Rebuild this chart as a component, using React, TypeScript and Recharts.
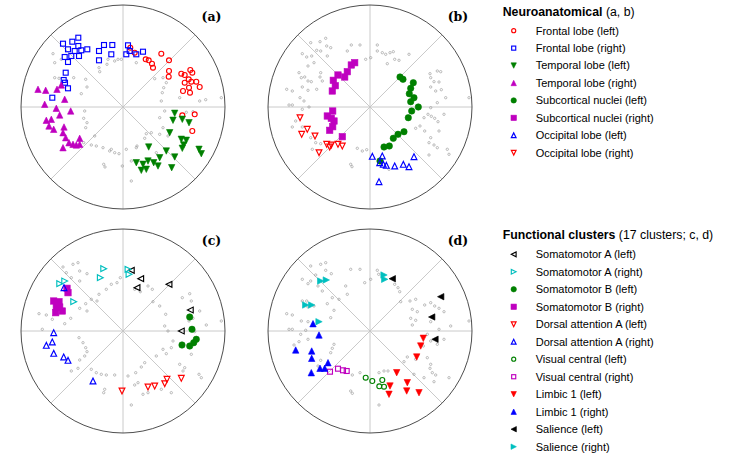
import React from 'react';
import { ScatterChart, Scatter, XAxis, YAxis, ReferenceLine, ReferenceDot } from 'recharts';

type P = [number, number];

const RED = '#ff0000';
const BLUE = '#0000ff';
const GREEN = '#008000';
const MAGENTA = '#bf00bf';
const CYAN = '#00bfbf';
const BLACK = '#000000';

// ---------- Panel (a): neuroanatomical ----------
const aFrontalRight: P[] = [[-60,63.3],[-50.7,65.3],[-44.7,69.3],[-44.7,61],[-55,57.7],[-48.3,56],[-41.7,56.7],[-35.7,57.7],[-58.3,50],[-51.7,51],[-44,51],[-55,45],[-24,56],[-19,62],[-10.7,62],[-11.7,52.7],[-24,46.7],[5,61.7],[6.7,56],[3.3,52.7],[13.3,52.7],[20,55.3],[-57.3,34.3],[-59.3,27],[-58,24.3],[-55,18.7],[-70.7,9.3]];
const aFrontalLeft: P[] = [[7.3,59.3],[11.7,54.3],[22.7,47.7],[25.7,46.7],[29,43.3],[30,39.3],[38.3,53.3],[46,46.7],[46,36],[45.7,30.3],[58.3,33.3],[61.7,32],[67.3,37],[69.3,34.3],[65.7,27.7],[61.7,24.3],[68.3,25.3],[73.3,25.3],[76.7,20],[66,19.3],[60,16],[67,14.3],[71.7,-7.3],[59.3,-8.3],[69.3,-24]];
const aTemporalLeft: P[] = [[51.7,-6.3],[59.3,-12.3],[66,-15.7],[50,-13.3],[46.7,-25.7],[58.3,-32.3],[63.3,-33.3],[60.7,-38],[59.3,-41.3],[76,-42.3],[78.3,-46.7],[43.3,-44],[51.7,-50],[36.7,-50.7],[30.7,-55.7],[25,-54],[13.3,-55.7],[20,-57.3],[23.3,-62.3],[18.3,-63.3],[35,-59],[48.7,-60.7],[25.7,-40]];
const aTemporalRight: P[] = [[-85,17.7],[-77.3,16.7],[-66,17.7],[-61.7,22],[-58.3,7.7],[-78.3,2.7],[-66.7,-1.3],[-52.3,-4],[-63.3,-8],[-76.7,-13.3],[-71.7,-12.3],[-74,-19],[-69.3,-22.3],[-59,-20],[-60,-25.7],[-57.3,-30.7],[-54,-35.7],[-50,-37.3],[-43.3,-31.3],[-43.3,-37.3],[-46.7,-38],[-60,-40.7]];
const aGray: P[] = [[-70,53.3],[-61.7,47.7],[-68.3,29.3],[-64,28.7],[-49.3,29.3],[-37.3,27.7],[-36,20],[-41.7,13.3],[-24,39.3],[-23.3,35.3],[-16,42.7],[-15,47.7],[-8.3,46],[-5,47.7],[-1.7,47.7],[13.3,44.3],[31.7,28.3],[40,29.3],[40.7,19.3],[39.3,14.3],[56.7,9.3],[76.7,6],[82.7,7.3],[98.3,9.3],[41.7,-4],[36.7,-10.7],[40,-20.7],[28.3,-25.7],[21.7,-31.3],[14,-39],[3.3,-42.3],[-0.7,-59],[8.3,-74],[-4,-46.7],[-11.7,-42.3],[-20,-40.7],[-26.7,-39],[-31.7,-38],[-39.3,-35.7],[-36,-15.7],[-37.3,-20.7],[-39.3,-11.3],[-28.3,-29],[-19.3,-57.3],[-18,-60],[70,-4.7],[63.3,-5.3],[45,-29],[33.3,-45.7],[8.3,-54],[13.3,-40.7],[23.3,-26.7],[36.7,-27.3],[-68.3,44.3],[-38.3,-4],[43.3,24.3],[38.3,6],[-13.3,-44],[-8.3,-45.7]];

// ---------- Panel (b): neuroanatomical ----------
const bSubcorticalRight: P[] = [[-15.3,44.3],[-18.7,42],[-22.7,35.3],[-25.3,30],[-32,32],[-36.7,26.7],[-34.7,21.3],[-37.7,16],[-37.3,-4],[-42.7,-9],[-38.7,-11.3],[-36,-14],[-37.3,-19.7],[-40.3,-23.3],[-27.7,-29.7]];
const bSubcorticalLeft: P[] = [[30,30],[33,27.7],[43.3,24.3],[40.7,18.7],[39.3,13.3],[44,9.3],[40.7,5.3],[48.3,0],[41.7,-4],[38.3,-10.7],[34,-24.7],[28,-27.3],[23.3,-31.3],[19.3,-39],[14,-40],[10,-54]];
const bOccipitalLeft: P[] = [[2.3,-49.3],[12.3,-49],[9.7,-55.7],[13.3,-57.3],[16.3,-58.3],[24.7,-59],[33.3,-57.3],[39,-59.7],[44,-49.7],[9,-74.7]];
const bOccipitalRight: P[] = [[-70,-10.7],[-62.7,-22.3],[-68.3,-27.3],[-55,-29],[-43.3,-37.3],[-40.3,-40],[-38.7,-38],[-32,-37.3],[-27.7,-39],[-51,-45.7]];
const bGray: P[] = [[-59.3,64.3],[-50,65.3],[-44.3,68.7],[-43.3,61],[-39.3,59.3],[-49.3,56],[-53.3,56.7],[-67.7,53.3],[-63.3,50],[-58.3,51],[-56,44.3],[-62,41],[-68.7,29.3],[-65.3,30],[-62,26],[-58.7,25.3],[-50,30],[-47.7,26],[-53.3,17.7],[-62,16.7],[-67.7,20],[-83.3,17.7],[-77.7,16],[-70,9.3],[-66,6],[-81,2],[-77.7,2],[-61,0],[-67.7,-2.3],[-74.3,-14],[-77.7,-20],[-67.7,-20],[-59.3,-30.7],[-54.3,-35.7],[-49.3,-36.7],[-57.7,-42.3],[-49.3,34.3],[-22.7,56],[-18.7,62],[-10,62],[-4.3,47.7],[0.7,49.3],[7.3,62],[7.3,56],[12.3,54.3],[15.7,52.7],[20,54.3],[23.3,55.3],[17.3,43.3],[24.7,47.7],[29,46.7],[39,52.7],[60,33.3],[67.3,36],[70.7,35.3],[60.7,29.3],[64,25.3],[69,25],[60.7,20],[65.7,16],[71.3,17.3],[75.7,9.3],[67.3,4.3],[60.7,-0.7],[99,9.3],[54,-10.7],[58,-7.3],[61.3,-9.3],[64.7,-11.3],[68,-14.7],[74,-7.3],[69,-24],[60.7,-30.7],[59,-35.7],[64,-38],[67.3,-40.7],[77.3,-42.3],[79,-47.3],[59,-48],[54.7,-24],[50,-19],[45.7,-21.3],[-12.7,-41.3],[-7.7,-44],[-3.3,-42.7],[-19.3,-57.3],[-18,-59.7],[19,-62.3],[-71,34.3],[-42.7,51]];

// ---------- Panel (c): functional clusters ----------
const cSomA_L: P[] = [[8.3,60.7],[17.7,52.3],[14,43.3],[46,46.7],[67.3,21],[58.3,0]];
const cSomA_R: P[] = [[-19.3,62.3],[-22.7,53.3],[5,61.7],[6,56.7],[-63.3,47.3],[-58.3,50],[-49.3,29.3]];
const cSomB_L: P[] = [[66.7,14],[69,1.7],[73.3,-8.3],[70.7,-11.7],[66.7,-15],[59,-14]];
const cSomB_R: P[] = [[-56,42.7],[-55,38.3],[-69.3,30],[-64,29.3],[-66.7,24],[-60.7,20],[-67.3,18.3],[-63.3,24]];
const cDorsA_L: P[] = [[-1,-60],[25,-56],[31.7,-55],[41.7,-52.7],[44,-48.3],[58.3,-47.3]];
const cDorsA_R: P[] = [[-59,43.3],[-69.3,-1.7],[-70.7,-11],[-76.7,-14.3],[-69.3,-22.3],[-59.3,-26],[-55,-29.3],[-30,-50]];
const cGray: P[] = [[-60,64],[-50,66.7],[-45,68.3],[-43.3,60],[-36,57.3],[-56.7,58.3],[-51.7,53.3],[-43.3,50],[-43.3,22.7],[-36,20],[-37.3,27.3],[-31.7,31.7],[-26,30],[-24,36.7],[-16.7,41.7],[-11.7,46.7],[-6,48.3],[-2.7,53.3],[11.7,41.7],[17.3,39.3],[25,45],[29.3,41.7],[30,29.3],[-84,17.3],[-76.7,16],[-70.7,11.7],[-80.7,1.7],[-58.3,7.3],[-52.3,12.7],[-44,-6.7],[-40,-11.7],[-37.3,-16.7],[-36,-20.7],[-38.3,-25],[-43.3,-29],[-45,-37.3],[-51.7,-40],[-31.7,-38.3],[-26.7,-41.7],[-21.7,-43.3],[-16.7,-44],[-8.3,-44],[5,-45],[12.7,-41.7],[15,-51.7],[11.7,-54],[20,-63.3],[25,-61.7],[38.3,-58.3],[48.3,-61.7],[56.7,-33.3],[60,-40],[61.7,-36.7],[8.3,-74],[-18.3,-58.3],[-19.3,-61.7],[18.3,-36],[21.7,-31.7],[33.3,-25],[40,-18.3],[43.3,-22.7],[48.3,-16.7],[50,-10],[45,0],[41.7,5],[42.7,16.7],[36.7,25],[59.3,33.3],[66.7,37.3],[68.3,30],[76.7,20],[70,12.7],[66,10],[71.7,-0.7],[83.3,6],[98.3,10],[68.3,-23.3],[76,-43.3],[78.3,-46.7]];

// ---------- Panel (d): functional clusters ----------
const dSal_L: P[] = [[22.3,52.3],[70.7,34.3],[61.7,14],[65,-8.3]];
const dSal_R: P[] = [[14,56],[14.7,51.7],[-49.3,50],[-43.7,51],[-64.3,26],[-58.3,26],[-51,9.3]];
const dLimb_R: P[] = [[-57,7.3],[-51,-4],[-74.3,-19],[-58.3,-20],[-58.3,-27.3],[-42,-31.7],[-50,-37.3],[-45.3,-37.3],[-58.7,-41.7]];
const dVis_R: P[] = [[-40,-40.7],[-32,-37.7],[-27,-39.3],[-23.3,-40]];
const dVis_L: P[] = [[-4.3,-46.7],[2.3,-50],[12.3,-49],[9.3,-55.3],[14,-55.7]];
const dLimb_L: P[] = [[53.3,-7.3],[50.7,-15],[46.7,-26],[26.7,-41.7],[37.3,-51.7],[36.7,-60],[49,-61.7],[20,-55],[19,-63.3]];
const dGray: P[] = [[-59.3,65],[-49.3,66.7],[-44.3,68.3],[-44.3,60.7],[-38.7,57.3],[-54.3,56],[-59.3,50],[-62,47.3],[-67.7,51.7],[-52,45],[-47.7,40],[-67.7,30],[-63.3,30],[-62,24],[-56,25],[-42.7,27.3],[-37.7,33.3],[-31,31.7],[-36,20.7],[-39.3,13.3],[-83.3,17.3],[-77.7,16],[-68.7,10],[-62,9.3],[-81,1.7],[-77.7,1.7],[-64.3,0.7],[-69.3,-3.3],[-71,-10.7],[-76,-14],[-62,-8.3],[-36,-13.3],[-37.7,-17.3],[-39.3,-21.7],[-49.3,-29.3],[-52,-35],[-24.3,45],[-22.7,36.7],[-19.3,61.7],[-10,61.7],[-5.3,48.3],[0.7,51.7],[7.3,60.7],[8.7,56.7],[24.7,46.7],[28,43.3],[29.7,39.3],[30.7,29.3],[40,30],[45.7,31.7],[42.3,21.7],[47.3,19.3],[40.7,12.7],[42.3,6],[45.7,10.7],[54.7,26],[60.7,28.3],[64.7,25],[69,22.7],[74,19.3],[60.7,9.3],[69,1.7],[80.7,5],[99,10],[57.3,-3.3],[60.7,-10],[67.3,-13.3],[74,-8.3],[53.3,-15],[57.3,-26.7],[60.7,-33.3],[60,-37.3],[62.3,-41.7],[65.7,-44],[79,-46.7],[64,-50.7],[54,-46.7],[44,-43.3],[45.7,-28.3],[37.3,-26],[34,-30.7],[14,-40],[18,-40],[9,-41.7],[-10,-41.7],[-17.7,-44],[9,-74],[-19.3,-60],[-17.7,-62.3]];

// ---------- Legend labels ----------
const legendTitle1 = 'Neuroanatomical';
const legendSub1 = ' (a, b)';
const legendTitle2 = 'Functional clusters';
const legendSub2 = ' (17 clusters; c, d)';

type Kind = 'o' | 's' | '^' | 'v' | '<' | '>';
type Series = { label: string; kind: Kind; color: string; filled: boolean; data?: P[] };

const neuroSeriesA: Series[] = [
  { label: 'Frontal lobe (left)', kind: 'o', color: RED, filled: false, data: aFrontalLeft },
  { label: 'Frontal lobe (right)', kind: 's', color: BLUE, filled: false, data: aFrontalRight },
  { label: 'Temporal lobe (left)', kind: 'v', color: GREEN, filled: true, data: aTemporalLeft },
  { label: 'Temporal lobe (right)', kind: '^', color: MAGENTA, filled: true, data: aTemporalRight },
];
const neuroSeriesB: Series[] = [
  { label: 'Subcortical nuclei (left)', kind: 'o', color: GREEN, filled: true, data: bSubcorticalLeft },
  { label: 'Subcortical nuclei (right)', kind: 's', color: MAGENTA, filled: true, data: bSubcorticalRight },
  { label: 'Occipital lobe (left)', kind: '^', color: BLUE, filled: false, data: bOccipitalLeft },
  { label: 'Occipital lobe (right)', kind: 'v', color: RED, filled: false, data: bOccipitalRight },
];
const funcSeriesC: Series[] = [
  { label: 'Somatomotor A (left)', kind: '<', color: BLACK, filled: false, data: cSomA_L },
  { label: 'Somatomotor A (right)', kind: '>', color: CYAN, filled: false, data: cSomA_R },
  { label: 'Somatomotor B (left)', kind: 'o', color: GREEN, filled: true, data: cSomB_L },
  { label: 'Somatomotor B (right)', kind: 's', color: MAGENTA, filled: true, data: cSomB_R },
  { label: 'Dorsal attention A (left)', kind: 'v', color: RED, filled: false, data: cDorsA_L },
  { label: 'Dorsal attention A (right)', kind: '^', color: BLUE, filled: false, data: cDorsA_R },
];
const funcSeriesD: Series[] = [
  { label: 'Visual central (left)', kind: 'o', color: GREEN, filled: false, data: dVis_L },
  { label: 'Visual central (right)', kind: 's', color: MAGENTA, filled: false, data: dVis_R },
  { label: 'Limbic 1 (left)', kind: 'v', color: RED, filled: true, data: dLimb_L },
  { label: 'Limbic 1 (right)', kind: '^', color: BLUE, filled: true, data: dLimb_R },
  { label: 'Salience (left)', kind: '<', color: BLACK, filled: true, data: dSal_L },
  { label: 'Salience (right)', kind: '>', color: CYAN, filled: true, data: dSal_R },
];

const toPts = (arr: P[]) => arr.map(([x, y]) => ({ x, y }));

function Marker({ cx, cy, kind, color, filled, s }: { cx: number; cy: number; kind: Kind; color: string; filled: boolean; s: number }) {
  if (cx == null || cy == null || isNaN(cx) || isNaN(cy)) return null;
  const fill = filled ? color : 'none';
  const sw = filled ? 0.6 : 1.15;
  const common = { fill, stroke: color, strokeWidth: sw, strokeLinejoin: 'miter' as const };
  switch (kind) {
    case 'o':
      return <circle cx={cx} cy={cy} r={filled ? s * 1.0 : s * 0.85} {...common} />;
    case 's': {
      const h = filled ? s * 1.0 : s * 0.85;
      return <rect x={cx - h} y={cy - h} width={2 * h} height={2 * h} {...common} />;
    }
    case '^':
      return <polygon points={`${cx},${cy - s} ${cx - s},${cy + s} ${cx + s},${cy + s}`} {...common} />;
    case 'v':
      return <polygon points={`${cx},${cy + s} ${cx - s},${cy - s} ${cx + s},${cy - s}`} {...common} />;
    case '<':
      return <polygon points={`${cx - s},${cy} ${cx + s},${cy - s} ${cx + s},${cy + s}`} {...common} />;
    case '>':
      return <polygon points={`${cx + s},${cy} ${cx - s},${cy - s} ${cx - s},${cy + s}`} {...common} />;
  }
  return null;
}

const R = 102;
const D = R * Math.SQRT1_2;

function Panel({ series, gray, left, top }: { series: Series[]; gray: P[]; left: number; top: number }) {
  return (
    <div style={{ position: 'absolute', left, top, width: 220, height: 220 }}>
      <ScatterChart width={220} height={220} margin={{ top: 8, right: 8, bottom: 8, left: 8 }}>
        <XAxis type="number" dataKey="x" domain={[-R, R]} hide allowDataOverflow />
        <YAxis type="number" dataKey="y" domain={[-R, R]} hide allowDataOverflow />
        <ReferenceLine segment={[{ x: -R, y: 0 }, { x: R, y: 0 }]} stroke="#c4c4c4" strokeWidth={0.9} />
        <ReferenceLine segment={[{ x: 0, y: -R }, { x: 0, y: R }]} stroke="#c4c4c4" strokeWidth={0.9} />
        <ReferenceLine segment={[{ x: -D, y: -D }, { x: D, y: D }]} stroke="#c4c4c4" strokeWidth={0.9} />
        <ReferenceLine segment={[{ x: -D, y: D }, { x: D, y: -D }]} stroke="#c4c4c4" strokeWidth={0.9} />
        <ReferenceDot x={0} y={0} r={R} fill="none" stroke="#3a3a3a" strokeWidth={0.9} />
        <Scatter
          data={toPts(gray)}
          isAnimationActive={false}
          shape={(p: any) => <circle cx={p.cx} cy={p.cy} r={1.2} fill="none" stroke="#8a8a8a" strokeWidth={0.55} />}
        />
        {series.map((s) => (
          <Scatter
            key={s.label}
            data={toPts(s.data || [])}
            isAnimationActive={false}
            shape={(p: any) => <Marker cx={p.cx} cy={p.cy} kind={s.kind} color={s.color} filled={s.filled} s={s.filled ? 3.2 : 2.9} />}
          />
        ))}
      </ScatterChart>
    </div>
  );
}

const FONT = '"Liberation Sans", Arial, sans-serif';

function LegendBlock({ title, sub, items, titleY, firstY, step }: { title: string; sub: string; items: Series[]; titleY: number; firstY: number; step: number }) {
  return (
    <g>
      <text x={502.7} y={titleY} fontFamily={FONT} fontSize={12.3} fill="#000">
        <tspan fontWeight="bold">{title}</tspan>
        <tspan>{sub}</tspan>
      </text>
      {items.map((it, i) => {
        const y = firstY + i * step;
        return (
          <g key={it.label}>
            <Marker cx={513.7} cy={y} kind={it.kind} color={it.color} filled={it.filled} s={it.filled ? 2.7 : 2.4} />
            <text x={535.7} y={y + 3.9} fontFamily={FONT} fontSize={11} fill="#000">{it.label}</text>
          </g>
        );
      })}
    </g>
  );
}

const panelLabels = ['(a)', '(b)', '(c)', '(d)'];

export default function App() {
  const labelPos = [
    [211.5, 20.5],
    [458, 20.5],
    [211.5, 244.5],
    [458, 244.5],
  ];
  return (
    <div style={{ position: 'absolute', left: 0, top: 0, width: 747, height: 468, background: '#fff', overflow: 'hidden' }}>
      <Panel series={neuroSeriesA} gray={aGray} left={13.3} top={-3.5} />
      <Panel series={neuroSeriesB} gray={bGray} left={259.5} top={-3.5} />
      <Panel series={funcSeriesC} gray={cGray} left={13.3} top={220.5} />
      <Panel series={funcSeriesD} gray={dGray} left={259.5} top={220.5} />
      <svg width={747} height={468} style={{ position: 'absolute', left: 0, top: 0, pointerEvents: 'none' }}>
        {panelLabels.map((t, i) => (
          <text key={t} x={labelPos[i][0]} y={labelPos[i][1]} textAnchor="middle" fontFamily='"DejaVu Serif", "Liberation Serif", serif' fontWeight="bold" fontSize={12.5} fill="#000">{t}</text>
        ))}
        <LegendBlock title={legendTitle1} sub={legendSub1} items={[...neuroSeriesA, ...neuroSeriesB]} titleY={15.5} firstY={30.7} step={17.43} />
        <LegendBlock title={legendTitle2} sub={legendSub2} items={[...funcSeriesC, ...funcSeriesD]} titleY={238.6} firstY={254.3} step={17.49} />
      </svg>
    </div>
  );
}
